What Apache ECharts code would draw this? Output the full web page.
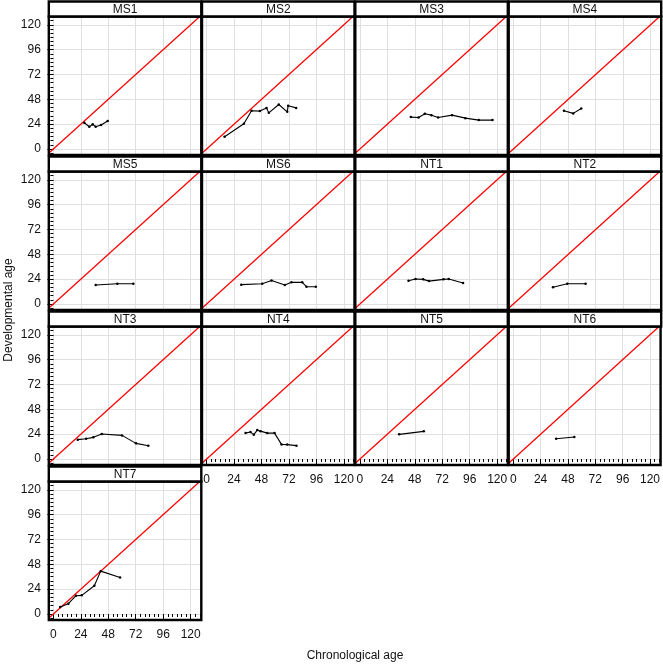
<!DOCTYPE html>
<html><head><meta charset="utf-8">
<script src="https://cdn.jsdelivr.net/npm/echarts@6/dist/echarts.min.js"></script>
<style>html,body{margin:0;padding:0;background:#fff}#c{width:663px;height:665px}</style>
</head><body><div id="c"></div>
<script>
// ---- data ----
const panelNames = ['MS1','MS2','MS3','MS4','MS5','MS6','NT1','NT2','NT3','NT4','NT5','NT6','NT7'];
const MS1 = [[27,25.3],[31.4,21.5],[34.4,23.8],[37,21.5],[41.7,23.1],[47.5,27]];
const MS2 = [[15.7,11.8],[32.6,24.4],[39.3,36.9],[46.6,36.6],[52.4,39.7],[54.4,34.9],[63.1,43],[70.5,35.9],[71.3,41.7],[78.3,39.7]];
const MS3 = [[44.5,30.8],[51.3,30.5],[56.8,34],[62.6,32.7],[68.4,30.5],[80.6,32.7],[92.3,29.8],[103.9,27.9],[115.9,27.9]];
const MS4 = [[44.3,36.9],[52.4,34.4],[59.4,39.2]];
const MS5 = [[37,18.3],[55.9,19.6],[69.9,19.6]];
const MS6 = [[30.3,18.7],[48.6,19.6],[56.8,22.8],[68.4,18.3],[74.2,20.9],[83.6,20.9],[87.3,16.7],[95.5,16.7]];
const NT1 = [[42.5,22.5],[48.6,24.1],[55.3,23.8],[60.5,22.1],[73.1,23.8],[77.7,24.1],[90.2,20.2]];
const NT2 = [[34.7,16.1],[47.2,19.6],[63.2,19.6]];
const NT3 = [[21.3,18.7],[28.6,19.6],[34.9,20.9],[42.3,24.1],[60,22.8],[72.2,15.1],[83,12.8]];
const NT4 = [[34.1,25],[38.4,26],[41.3,23.5],[44.3,27.9],[47.2,26.9],[53,25],[59.4,25],[65.5,14.1],[70.5,13.9],[78.6,12.9]];
const NT5 = [[34.3,23.8],[55.9,26.7]];
const NT6 = [[37.6,19.6],[53.6,21.2]];
const NT7 = [[5.9,6.7],[13.1,10],[19.8,17.7],[24.8,18],[35.8,27.3],[41.4,41.4],[58.3,35.3]];
const panelData = [MS1,MS2,MS3,MS4,MS5,MS6,NT1,NT2,NT3,NT4,NT5,NT6,NT7];
const majorTicks = [0,24,48,72,96,120];
const minorTicks = [-4,0,4,8,12,16,20,24,28,32,36,40,44,48,52,56,60,64,68,72,76,80,84,88,92,96,100,104,108,112,116,120,124,128];
const identityEnds = [-10,140];
const xTitle = 'Chronological age';
const yTitle = 'Developmental age';

// ---- layout ----
const colLeft = [48.8, 202, 355.3, 508.7];
const plotW = 152.5;
const plotTop = [16.5, 171.5, 326.5, 481.5];
const plotH = 138.5;
const stripH = 15;
const xMin = -4, xMax = 129.3, yMin = -5.8, yMax = 128;
const font = 'Liberation Sans, Arial, sans-serif';
const showY = i => i % 4 === 0;
const showX = i => i >= 9;

const grids = [], xAxes = [], yAxes = [], series = [], graphics = [];
panelNames.forEach((name, i) => {
  const c = i % 4, r = Math.floor(i / 4);
  grids.push({left: colLeft[c], top: plotTop[r], width: plotW, height: plotH,
    show: true, borderColor: '#000', borderWidth: 2.4, backgroundColor: 'transparent', containLabel: false, z: 4});
  const sx = showX(i), sy = showY(i);
  xAxes.push({type: 'value', gridIndex: i, position: 'bottom', min: xMin, max: xMax,
    axisLine: {show: false},
    axisTick: {show: sx, customValues: majorTicks, length: 6, lineStyle: {color: '#000'}},
    axisLabel: {show: sx, customValues: majorTicks, margin: 9, fontSize: 12, color: '#111', fontFamily: font},
    splitLine: {show: true, lineStyle: {color: '#e0e0e0', width: 1}}});
  xAxes.push({type: 'value', gridIndex: i, position: 'bottom', min: xMin, max: xMax,
    axisLine: {show: false},
    axisTick: {show: sx, customValues: minorTicks, length: 3, lineStyle: {color: '#000'}},
    axisLabel: {show: false}, splitLine: {show: false}});
  yAxes.push({type: 'value', gridIndex: i, position: 'left', min: yMin, max: yMax,
    axisLine: {show: false},
    axisTick: {show: sy, customValues: majorTicks, length: 6, lineStyle: {color: '#000'}},
    axisLabel: {show: sy, customValues: majorTicks, margin: 8, fontSize: 12, color: '#111', fontFamily: font},
    splitLine: {show: true, lineStyle: {color: '#e0e0e0', width: 1}}});
  yAxes.push({type: 'value', gridIndex: i, position: 'left', min: yMin, max: yMax,
    axisLine: {show: false},
    axisTick: {show: sy, customValues: minorTicks, length: 3, lineStyle: {color: '#000'}},
    axisLabel: {show: false}, splitLine: {show: false}});
  series.push({type: 'line', xAxisIndex: 2 * i, yAxisIndex: 2 * i, clip: true, silent: true,
    data: identityEnds.map(v => [v, v]), symbol: 'none', lineStyle: {color: '#ff0000', width: 1.3}, z: 2});
  series.push({type: 'line', xAxisIndex: 2 * i, yAxisIndex: 2 * i, data: panelData[i],
    symbol: 'circle', symbolSize: 2.5, itemStyle: {color: '#000'}, lineStyle: {color: '#000', width: 1.1}, z: 3});
  graphics.push({type: 'rect', shape: {x: colLeft[c], y: plotTop[r] - stripH, width: plotW, height: stripH},
    style: {fill: '#fff', stroke: '#000', lineWidth: 2.4}, z: 10});
  graphics.push({type: 'text', x: colLeft[c] + plotW / 2, y: plotTop[r] - stripH / 2 + 0.5, z: 11,
    style: {text: name, align: 'center', verticalAlign: 'middle', fontSize: 12, fill: '#111', fontFamily: font}});
});
graphics.push({type: 'text', x: 9, y: 310, rotation: Math.PI / 2, z: 11,
  style: {text: yTitle, align: 'center', verticalAlign: 'middle', fontSize: 12, fill: '#111', fontFamily: font}});
graphics.push({type: 'text', x: 355, y: 656, z: 11,
  style: {text: xTitle, align: 'center', verticalAlign: 'middle', fontSize: 12, fill: '#111', fontFamily: font}});

const chart = echarts.init(document.getElementById('c'), null, {renderer: 'canvas'});
chart.setOption({animation: false, backgroundColor: '#fff',
  grid: grids, xAxis: xAxes, yAxis: yAxes, series: series, graphic: graphics});
</script></body></html>
